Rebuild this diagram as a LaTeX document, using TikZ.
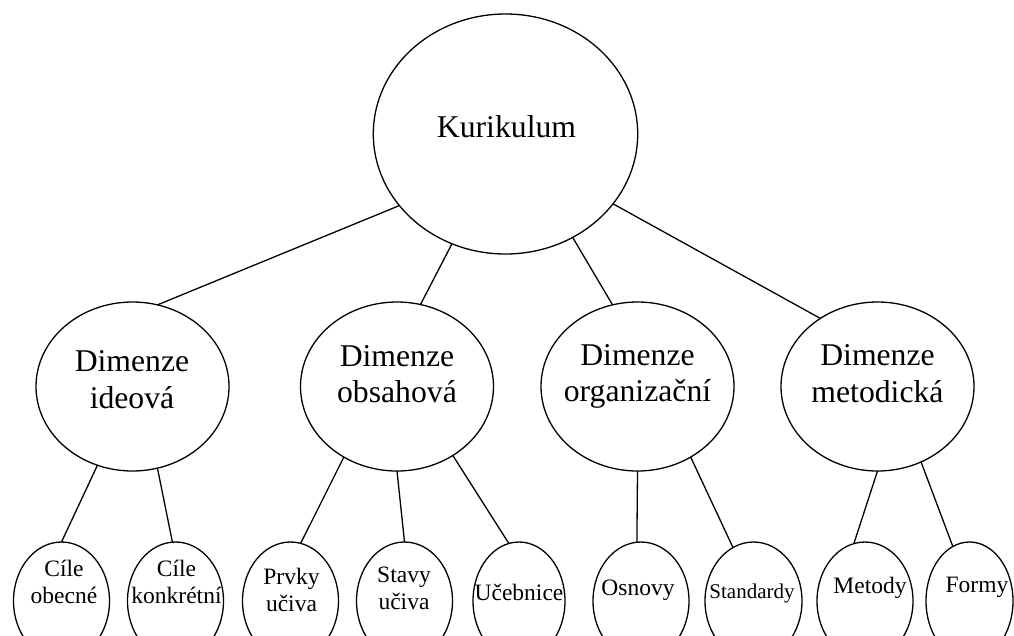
\documentclass[tikz,border=0pt]{standalone}
\usepackage{fontspec}
\setmainfont{Liberation Serif}
\usetikzlibrary{shapes.geometric}
\begin{document}
\begin{tikzpicture}[x=1pt,y=-1pt,
  oval/.style={draw, ellipse, line width=1.3pt, inner sep=0pt, outer sep=0pt},
  topoval/.style={oval, minimum width=264.4pt, minimum height=240pt},
  midoval/.style={oval, minimum width=193pt, minimum height=169pt},
  lowoval/.style={oval, minimum width=96pt, minimum height=118pt},
  conn/.style={line width=1.3pt},
  bigtxt/.style={font=\fontsize{31.7}{36.5}\selectfont, anchor=base, inner sep=0pt},
  smalltxt/.style={font=\fontsize{23.5}{27}\selectfont, anchor=base, inner sep=0pt}]
\useasboundingbox (0,0) rectangle (1014,635);
\clip (0,0) rectangle (1014,635);

% top
\node[topoval] (kur) at (505.5,134) {};
\node[bigtxt] (kurT) at (506.5,137) {Kurikulum};

% middle level
\node[midoval] (ideo) at (132.5,386.5) {};
\node[midoval] (obsah) at (397,386.5) {};
\node[midoval] (org) at (637.5,386.5) {};
\node[midoval] (met) at (877.5,386.5) {};
\node[bigtxt] (ideoA) at (132,371) {Dimenze};
\node[bigtxt] (ideoB) at (132,408) {ideová};
\node[bigtxt] (obsahA) at (397,366) {Dimenze};
\node[bigtxt] (obsahB) at (397,402) {obsahová};
\node[bigtxt] (orgA) at (637.5,365) {Dimenze};
\node[bigtxt] (orgB) at (637.5,401) {organizační};
\node[bigtxt] (metA) at (877.5,365) {Dimenze};
\node[bigtxt] (metB) at (877.5,402) {metodická};

% bottom level
\node[lowoval] (cob) at (61.5,601) {};
\node[lowoval] (cko) at (175.5,601) {};
\node[lowoval] (prv) at (290.5,601) {};
\node[lowoval] (sta) at (404.5,601) {};
\node[lowoval, minimum width=92pt] (uce) at (519,601) {};
\node[lowoval] (osn) at (641,601) {};
\node[lowoval, minimum width=97pt] (std) at (753.5,601) {};
\node[lowoval] (mto) at (865,601) {};
\node[lowoval, minimum width=87pt] (frm) at (969.5,601) {};

\node[smalltxt] (cobA) at (64,576) {Cíle};
\node[smalltxt] (cobB) at (64,603) {obecné};
\node[smalltxt] (ckoA) at (176.5,576) {Cíle};
\node[smalltxt] (ckoB) at (176.5,603) {konkrétní};
\node[smalltxt] (prvA) at (291.5,584) {Prvky};
\node[smalltxt] (prvB) at (291.5,611) {učiva};
\node[smalltxt] (staA) at (404,582) {Stavy};
\node[smalltxt] (staB) at (404,609) {učiva};
\node[smalltxt] (uceA) at (519,600) {Učebnice};
\node[smalltxt] (osnA) at (638,595) {Osnovy};
\node[smalltxt, font=\fontsize{21}{24}\selectfont] (stdA) at (752,598) {Standardy};
\node[smalltxt] (mtoA) at (870,593) {Metody};
\node[smalltxt] (frmA) at (977,592) {Formy};

% connectors top -> middle
\draw[conn] (kur.-146.2) -- (ideo.73.6);
\draw[conn] (kur.-116.8) -- (obsah.74);
\draw[conn] (kur.-57.3) -- (org.107.4);
\draw[conn] (kur.-33.8) -- (met.130.4);

% connectors middle -> bottom
\draw[conn] (ideo.-114.7) -- (cob.90);
\draw[conn] (ideo.-73.8) -- (cko.93);
\draw[conn] (obsah.-127.2) -- (prv.80);
\draw[conn] (obsah.-90) -- (sta.90);
\draw[conn] (obsah.-51.4) -- (uce.100.8);
\draw[conn] (org.-90) -- (osn.94);
\draw[conn] (org.-53.5) -- (std.111.3);
\draw[conn] (met.-90) -- (mto.101.5);
\draw[conn] (met.-60.6) -- (frm.107.6);
\end{tikzpicture}
\end{document}
